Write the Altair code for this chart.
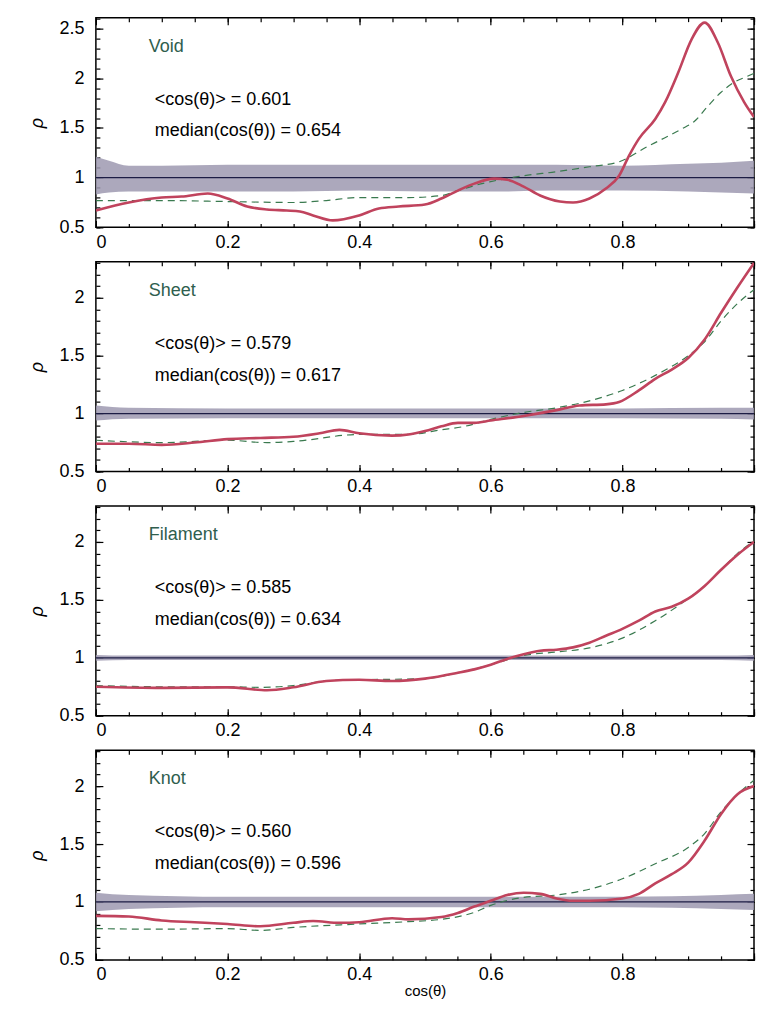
import altair as alt
import pandas as pd

FONT = "Liberation Sans"

# ---------------- data ----------------
PANEL_NAMES = ["Void", "Sheet", "Filament", "Knot"]
MEAN_TEXT = ["<cos(θ)> = 0.601", "<cos(θ)> = 0.579", "<cos(θ)> = 0.585", "<cos(θ)> = 0.560"]
MEDIAN_TEXT = ["median(cos(θ)) = 0.654", "median(cos(θ)) = 0.617",
               "median(cos(θ)) = 0.634", "median(cos(θ)) = 0.596"]
Y_MAX = [2.61, 2.31, 2.31, 2.31]
Y_LABELS = [[0.5, 1, 1.5, 2, 2.5], [0.5, 1, 1.5, 2], [0.5, 1, 1.5, 2], [0.5, 1, 1.5, 2]]
X_LABELS = [0, 0.2, 0.4, 0.6, 0.8]
X_MAJOR = [0, 0.2, 0.4, 0.6, 0.8, 1.0]
REF_LEVEL = [1.0]

# Void
VOID_RED_X = [0, 0.05, 0.1, 0.13, 0.17, 0.2, 0.23, 0.26, 0.29, 0.31, 0.33, 0.36, 0.4, 0.43, 0.46,
              0.5, 0.525, 0.55, 0.575, 0.605, 0.625, 0.65, 0.675, 0.705, 0.725, 0.75, 0.775, 0.795,
              0.81, 0.825, 0.85, 0.865, 0.885, 0.905, 0.925, 0.945, 0.965, 0.985, 1.0]
VOID_RED_Y = [0.67, 0.75, 0.80, 0.81, 0.84, 0.79, 0.71, 0.68, 0.67, 0.66, 0.62, 0.57, 0.62, 0.69, 0.71,
              0.73, 0.79, 0.87, 0.94, 0.99, 0.98, 0.91, 0.82, 0.76, 0.75, 0.79, 0.89, 1.02,
              1.22, 1.39, 1.59, 1.76, 2.06, 2.39, 2.56, 2.36, 2.02, 1.76, 1.61]
VOID_GREEN_X = [0, 0.1, 0.2, 0.3, 0.35, 0.4, 0.475, 0.525, 0.55, 0.575, 0.6, 0.65, 0.7, 0.75, 0.795,
                0.84, 0.855, 0.89, 0.91, 0.93, 0.95, 0.97, 0.99, 1.0]
VOID_GREEN_Y = [0.77, 0.77, 0.76, 0.75, 0.77, 0.80, 0.80, 0.82, 0.87, 0.92, 0.96, 1.02, 1.06, 1.11, 1.16,
                1.32, 1.37, 1.49, 1.57, 1.72, 1.86, 1.96, 2.02, 2.05]
VOID_BAND_X = [0, 0.02, 0.05, 0.1, 0.2, 0.3, 0.4, 0.5, 0.6, 0.7, 0.8, 0.9, 0.95, 1.0]
VOID_BAND_LO = [0.83, 0.85, 0.86, 0.86, 0.86, 0.86, 0.87, 0.86, 0.86, 0.87, 0.87, 0.86, 0.85, 0.84]
VOID_BAND_HI = [1.21, 1.17, 1.12, 1.12, 1.13, 1.13, 1.13, 1.13, 1.13, 1.13, 1.12, 1.14, 1.15, 1.17]

# Sheet
SHEET_RED_X = [0, 0.05, 0.1, 0.15, 0.2, 0.25, 0.3, 0.34, 0.37, 0.4, 0.45, 0.475, 0.5, 0.525, 0.55,
               0.575, 0.6, 0.65, 0.7, 0.735, 0.775, 0.795, 0.825, 0.85, 0.875, 0.9, 0.925, 0.95,
               0.975, 1.0]
SHEET_RED_Y = [0.74, 0.74, 0.73, 0.75, 0.78, 0.79, 0.80, 0.83, 0.86, 0.83, 0.81, 0.82, 0.85, 0.89, 0.92,
               0.92, 0.94, 0.98, 1.03, 1.07, 1.08, 1.10, 1.20, 1.30, 1.38, 1.48, 1.64, 1.87,
               2.09, 2.30]
SHEET_GREEN_X = [0, 0.1, 0.2, 0.26, 0.3, 0.4, 0.475, 0.525, 0.56, 0.6, 0.65, 0.7, 0.75, 0.8, 0.85,
                 0.9, 0.925, 0.95, 0.975, 1.0]
SHEET_GREEN_Y = [0.77, 0.75, 0.77, 0.75, 0.76, 0.82, 0.82, 0.86, 0.89, 0.95, 1.01, 1.05, 1.11, 1.20, 1.33,
                 1.50, 1.62, 1.80, 1.95, 2.07]
SHEET_BAND_X = [0, 0.05, 0.2, 0.4, 0.6, 0.8, 0.95, 1.0]
SHEET_BAND_LO = [0.94, 0.955, 0.96, 0.96, 0.96, 0.96, 0.955, 0.95]
SHEET_BAND_HI = [1.07, 1.05, 1.045, 1.045, 1.045, 1.045, 1.05, 1.05]

# Filament
FIL_RED_X = [0, 0.1, 0.2, 0.26, 0.3, 0.35, 0.4, 0.45, 0.5, 0.55, 0.575, 0.6, 0.625, 0.65, 0.675,
             0.7, 0.725, 0.75, 0.775, 0.8, 0.825, 0.85, 0.875, 0.9, 0.925, 0.95, 0.975, 1.0]
FIL_RED_Y = [0.75, 0.74, 0.745, 0.72, 0.745, 0.80, 0.81, 0.80, 0.82, 0.87, 0.90, 0.94, 0.99, 1.03, 1.06,
             1.07, 1.09, 1.13, 1.19, 1.25, 1.32, 1.40, 1.44, 1.51, 1.62, 1.76, 1.89, 2.00]
FIL_GREEN_X = [0, 0.1, 0.2, 0.25, 0.3, 0.35, 0.4, 0.5, 0.55, 0.6, 0.65, 0.7, 0.75, 0.8, 0.85,
               0.89, 0.925, 0.95, 0.975, 1.0]
FIL_GREEN_Y = [0.76, 0.75, 0.75, 0.745, 0.76, 0.80, 0.81, 0.82, 0.87, 0.94, 1.02, 1.05, 1.085, 1.17, 1.32,
               1.47, 1.62, 1.76, 1.90, 2.01]
FIL_BAND_X = [0, 0.05, 0.2, 0.4, 0.6, 0.8, 0.95, 1.0]
FIL_BAND_LO = [0.975, 0.98, 0.98, 0.98, 0.98, 0.98, 0.98, 0.975]
FIL_BAND_HI = [1.025, 1.02, 1.02, 1.02, 1.02, 1.02, 1.02, 1.025]

# Knot
KNOT_RED_X = [0, 0.05, 0.1, 0.15, 0.2, 0.25, 0.3, 0.33, 0.37, 0.4, 0.45, 0.475, 0.525, 0.55, 0.575,
              0.6, 0.625, 0.65, 0.675, 0.7, 0.725, 0.75, 0.8, 0.825, 0.85, 0.875, 0.9, 0.925, 0.95,
              0.975, 1.0]
KNOT_RED_Y = [0.88, 0.875, 0.84, 0.825, 0.81, 0.79, 0.82, 0.835, 0.82, 0.825, 0.86, 0.85, 0.87, 0.905, 0.96,
              1.01, 1.06, 1.08, 1.07, 1.03, 1.01, 1.01, 1.03, 1.07, 1.16, 1.24, 1.34, 1.53, 1.76,
              1.93, 2.00]
KNOT_GREEN_X = [0, 0.1, 0.2, 0.25, 0.3, 0.4, 0.475, 0.525, 0.575, 0.6, 0.65, 0.7, 0.75, 0.8, 0.85,
                0.9, 0.925, 0.95, 0.975, 1.0]
KNOT_GREEN_Y = [0.77, 0.765, 0.77, 0.755, 0.78, 0.81, 0.83, 0.85, 0.91, 0.97, 1.04, 1.06, 1.11, 1.20, 1.33,
                1.47, 1.59, 1.78, 1.93, 2.05]
KNOT_BAND_X = [0, 0.05, 0.2, 0.4, 0.6, 0.8, 0.95, 1.0]
KNOT_BAND_LO = [0.92, 0.94, 0.955, 0.955, 0.955, 0.955, 0.94, 0.93]
KNOT_BAND_HI = [1.08, 1.06, 1.045, 1.045, 1.045, 1.045, 1.06, 1.07]

SERIES = [
    (VOID_RED_X, VOID_RED_Y, VOID_GREEN_X, VOID_GREEN_Y, VOID_BAND_X, VOID_BAND_LO, VOID_BAND_HI),
    (SHEET_RED_X, SHEET_RED_Y, SHEET_GREEN_X, SHEET_GREEN_Y, SHEET_BAND_X, SHEET_BAND_LO, SHEET_BAND_HI),
    (FIL_RED_X, FIL_RED_Y, FIL_GREEN_X, FIL_GREEN_Y, FIL_BAND_X, FIL_BAND_LO, FIL_BAND_HI),
    (KNOT_RED_X, KNOT_RED_Y, KNOT_GREEN_X, KNOT_GREEN_Y, KNOT_BAND_X, KNOT_BAND_LO, KNOT_BAND_HI),
]

# ---------------- styling ----------------
W = 659
H = 210
RED = "#c0435d"
GREEN = "#3a7a4f"
BAND = "#9d99b0"
REFC = "#1c1c44"
NAMEC = "#2f5e4e"
LBL = 18
X_MINOR = [round(0.05 * i, 2) for i in range(21)]


def tick_axis(orient, values, size):
    return alt.Axis(orient=orient, values=values, tickSize=size, offset=-size, labels=False,
                    domain=False, grid=False, ticks=True, tickColor="black", tickWidth=1.2,
                    minExtent=0)


def panel(i):
    rx, ry, gx, gy, bx, blo, bhi = SERIES[i]
    ymax = Y_MAX[i]
    y_minor = [round(0.5 + 0.1 * k, 2) for k in range(int(round((ymax - 0.5) / 0.1)) + 1)]
    y_major = Y_LABELS[i]
    xs = alt.Scale(domain=[0, 1], nice=False, zero=False)
    ys = alt.Scale(domain=[0.5, ymax], nice=False, zero=False)
    last = i == len(PANEL_NAMES) - 1

    df_band = pd.DataFrame({"x": bx, "lo": blo, "hi": bhi})
    df_red = pd.DataFrame({"x": rx, "y": ry})
    df_green = pd.DataFrame({"x": gx, "y": gy})
    df_ref = pd.DataFrame({"v": REF_LEVEL})

    xlab_kw = dict(orient="bottom", values=X_LABELS, format=".1~f", ticks=False, tickSize=0,
                   domain=False, grid=False, labelPadding=6, labelFontSize=LBL, minExtent=0,
                   titleFontSize=15, titleFontWeight="normal", titlePadding=0, titleColor="black")
    ylab_kw = dict(orient="left", values=y_major, format=".1~f", ticks=False, tickSize=0,
                   domain=False, grid=False, labelPadding=12, labelFontSize=LBL, minExtent=0,
                   titleFontSize=18, titleFontWeight="normal", titleFontStyle="italic",
                   titlePadding=12, titleColor="black")

    band = alt.Chart(df_band).mark_area(color=BAND, opacity=0.85, interpolate="monotone").encode(
        x=alt.X("x:Q", scale=xs, axis=alt.Axis(**xlab_kw),
                title="cos(θ)" if last else None),
        y=alt.Y("lo:Q", scale=ys, axis=alt.Axis(**ylab_kw), title="ρ"),
        y2="hi:Q",
    )
    rule = alt.Chart(df_ref).mark_rule(color=REFC, strokeWidth=1.3).encode(
        y=alt.Y("v:Q", scale=ys, axis=None)
    )
    green = alt.Chart(df_green).mark_line(color=GREEN, strokeWidth=1.2, strokeDash=[7, 5],
                                          interpolate="monotone", clip=True).encode(
        x=alt.X("x:Q", scale=xs, axis=tick_axis("bottom", X_MINOR, 4), title=None),
        y=alt.Y("y:Q", scale=ys, axis=tick_axis("left", y_minor, 4), title=None),
    )
    red = alt.Chart(df_red).mark_line(color=RED, strokeWidth=2.6, interpolate="monotone",
                                      clip=True).encode(
        x=alt.X("x:Q", scale=xs, axis=tick_axis("bottom", X_MAJOR, 7), title=None),
        y=alt.Y("y:Q", scale=ys, axis=tick_axis("left", y_major, 7), title=None),
    )
    h1 = alt.Chart(df_red).mark_point(opacity=0, size=1, clip=True).encode(
        x=alt.X("x:Q", scale=xs, axis=tick_axis("top", X_MAJOR, 7), title=None),
        y=alt.Y("y:Q", scale=ys, axis=tick_axis("right", y_major, 7), title=None),
    )
    h2 = alt.Chart(df_red).mark_point(opacity=0, size=1, clip=True).encode(
        x=alt.X("x:Q", scale=xs, axis=tick_axis("top", X_MINOR, 4), title=None),
        y=alt.Y("y:Q", scale=ys, axis=tick_axis("right", y_minor, 4), title=None),
    )

    def txt(s, px, py, color):
        return alt.Chart(pd.DataFrame({"t": [s]})).mark_text(
            align="left", baseline="middle", font=FONT, fontSize=18, color=color
        ).encode(x=alt.value(px), y=alt.value(py), text="t:N")

    t1 = txt(PANEL_NAMES[i], 53, 29, NAMEC)
    t2 = txt(MEAN_TEXT[i], 59, 82, "black")
    t3 = txt(MEDIAN_TEXT[i], 59, 114, "black")

    return alt.layer(band, rule, green, red, h1, h2, t1, t2, t3).resolve_axis(
        x="independent", y="independent"
    ).properties(width=W, height=H)


chart = alt.vconcat(*[panel(i) for i in range(4)], spacing=7.5).properties(
    padding={"left": 20, "top": 7, "right": 0, "bottom": 0},
    background="white",
).configure_view(
    stroke="black", strokeWidth=1.5
).configure_axis(
    labelFont=FONT, titleFont=FONT, labelColor="black", minExtent=0
)

chart.save("out.html", embed_options={"renderer": "svg", "actions": False})
